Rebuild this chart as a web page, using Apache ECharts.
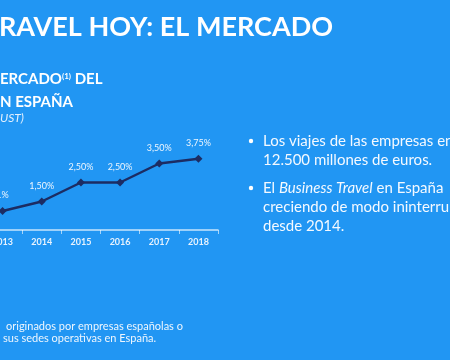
<!DOCTYPE html>
<html>
<head>
<meta charset="utf-8">
<script src="https://cdn.jsdelivr.net/npm/echarts@6/dist/echarts.min.js"></script>
<style>
html,body{margin:0;padding:0;background:#2196f3;}
#c{width:450px;height:360px;}
</style>
</head>
<body>
<div id="c"></div>
<script>
const years = ['2013', '2014', '2015', '2016', '2017', '2018'];
const growth = [1.0, 1.5, 2.5, 2.5, 3.5, 3.75];
const growthLabels = ['1%', '1,50%', '2,50%', '2,50%', '3,50%', '3,75%'];

const chart = echarts.init(document.getElementById('c'), null, {renderer: 'canvas'});
const white = '#ffffff';
const font = 'Lato, "Open Sans", sans-serif';
chart.setOption({
  backgroundColor: '#2196f3',
  animation: false,
  grid: {left: -17, right: 232, top: 135, bottom: 130, containLabel: false, outerBoundsMode: 'none'},
  xAxis: {
    type: 'category',
    data: years,
    boundaryGap: true,
    axisLine: {lineStyle: {color: 'rgba(255,255,255,0.75)', width: 1.5}},
    axisTick: {show: true, length: 4, lineStyle: {color: 'rgba(255,255,255,0.6)'}},
    axisLabel: {color: '#e8f3fe', fontSize: 9, fontWeight: 'bold', margin: 8, fontFamily: font}
  },
  yAxis: {type: 'value', min: 0, max: 5, show: false, splitLine: {show: false}},
  series: [{
    type: 'line',
    data: growth,
    symbol: 'diamond',
    symbolSize: 8,
    lineStyle: {color: '#1c2c63', width: 2.5},
    itemStyle: {color: '#1c2c63'},
    label: {
      show: true, position: 'top', distance: 7,
      color: '#eef6fe', fontSize: 9, fontFamily: font,
      formatter: p => growthLabels[p.dataIndex]
    }
  }],
  graphic: [
    {type: 'text', left: -1, top: 14, style: {text: 'RAVEL HOY: EL MERCADO', fill: white, font: 'bold 27px ' + font}},
    {type: 'text', left: 0, top: 68, style: {
      text: 'ERCADO{sup|(1)} DEL\nN ESPAÑA',
      fill: white, font: 'bold 15px ' + font, lineHeight: 23,
      rich: {sup: {fontSize: 8, fontWeight: 'bold', fill: white, padding: [0, 0, 7, 0], fontFamily: font}}
    }},
    {type: 'text', left: 0, top: 112, style: {text: 'UST)', fill: '#e3f0fd', font: 'italic 12px ' + font}},
    {type: 'circle', shape: {cx: 251, cy: 141, r: 2.2}, style: {fill: white}},
    {type: 'circle', shape: {cx: 251, cy: 188, r: 2.2}, style: {fill: white}},
    {type: 'text', left: 263, top: 132, style: {
      text: 'Los viajes de las empresas en\n12.500 millones de euros.',
      fill: '#f4f9ff', font: '15px ' + font, lineHeight: 19
    }},
    {type: 'text', left: 263, top: 179, style: {
      text: 'El {it|Business Travel} en España\ncreciendo de modo ininterrumpido\ndesde 2014.',
      fill: '#f4f9ff', font: '15px ' + font, lineHeight: 19,
      rich: {it: {fontStyle: 'italic', fontSize: 15, fill: '#f4f9ff', fontFamily: font}}
    }},
    {type: 'text', left: 6, top: 321, style: {
      text: 'originados por empresas españolas o',
      fill: '#eef6fe', font: '11px ' + font
    }},
    {type: 'text', left: 3, top: 333, style: {
      text: 'sus sedes operativas en España.',
      fill: '#eef6fe', font: '11px ' + font
    }}
  ]
});
</script>
</body>
</html>
